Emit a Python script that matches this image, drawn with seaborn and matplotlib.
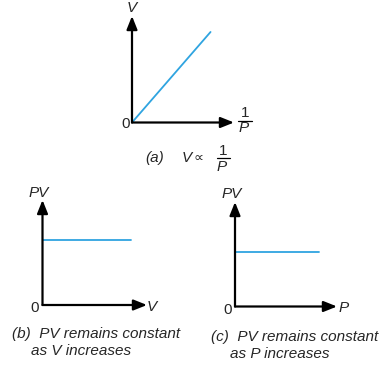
import matplotlib
matplotlib.use("Agg")
import matplotlib.pyplot as plt
from matplotlib.lines import Line2D
import seaborn as sns

sns.set_theme(style="white")
plt.rcParams['font.family'] = ['Liberation Sans', 'DejaVu Sans']

# ---- data ----
a_x = [0.0, 0.77]
a_y = [0.0, 0.85]
b_x = [0.0, 0.85]
b_y = [0.62, 0.62]
c_x = [0.0, 0.82]
c_y = [0.52, 0.52]

LINE = "#2fa4e0"
W, H = 383, 368
fig = plt.figure(figsize=(W / 100, H / 100), dpi=100)
fig.patch.set_facecolor("white")


def px(x, y):
    return x / W, 1 - y / H


def make_axes(x0, y0, x1, y1):
    ax = fig.add_axes([x0 / W, 1 - y0 / H, (x1 - x0) / W, (y0 - y1) / H])
    ax.set_xlim(0, 1)
    ax.set_ylim(0, 1)
    ax.axis("off")
    for start, end in [((0, 0), (1, 0)), ((0, 0), (0, 1))]:
        ax.annotate("", xy=end, xytext=start, xycoords="data",
                    arrowprops=dict(arrowstyle="-|>,head_length=0.8,head_width=0.32",
                                    color="black", lw=1.6, shrinkA=0, shrinkB=0,
                                    mutation_scale=10),
                    annotation_clip=False)
    return ax


def fraction(xc, ytop, ybar, ybot, half, fs):
    fig.text(*px(xc, ytop), "1", fontsize=fs, ha="center", va="center")
    fig.text(*px(xc - 1, ybot), "P", style="italic", fontsize=fs, ha="center", va="center")
    x0, y0 = px(xc - half, ybar)
    x1, _ = px(xc + half, ybar)
    fig.add_artist(Line2D([x0, x1], [y0, y0], color="black", lw=0.9,
                          transform=fig.transFigure))


FS = 11
# panel (a)
ax_a = make_axes(132, 122.5, 234, 16)
sns.lineplot(x=a_x, y=a_y, ax=ax_a, color=LINE, lw=1.3)
fig.text(*px(132, 8), "V", style="italic", fontsize=FS, ha="center", va="center")
fig.text(*px(126, 124), "0", fontsize=FS, ha="center", va="center")
fraction(245, 113, 120.5, 128.5, 6.5, FS)
fig.text(*px(155, 158), "(a)", style="italic", fontsize=FS, ha="center", va="center")
fig.text(*px(187, 158), "V", style="italic", fontsize=FS, ha="center", va="center")
fig.text(*px(198, 158), "\u221d", fontsize=FS - 1, ha="center", va="center",
         family=['DejaVu Sans'])
fraction(223, 151, 158.5, 167, 6.5, FS)

# panel (b)
ax_b = make_axes(42.5, 305, 147, 200)
sns.lineplot(x=b_x, y=b_y, ax=ax_b, color=LINE, lw=1.3)
fig.text(*px(39, 193), "PV", style="italic", fontsize=FS, ha="center", va="center")
fig.text(*px(35, 308), "0", fontsize=FS, ha="center", va="center")
fig.text(*px(152, 307), "V", style="italic", fontsize=FS, ha="center", va="center")
fig.text(*px(12, 334), "(b)  PV remains constant", style="italic", fontsize=FS,
         ha="left", va="center")
fig.text(*px(31, 351), "as V increases", style="italic", fontsize=FS,
         ha="left", va="center")

# panel (c)
ax_c = make_axes(235, 306.5, 337, 202)
sns.lineplot(x=c_x, y=c_y, ax=ax_c, color=LINE, lw=1.3)
fig.text(*px(232, 194), "PV", style="italic", fontsize=FS, ha="center", va="center")
fig.text(*px(228, 310), "0", fontsize=FS, ha="center", va="center")
fig.text(*px(344, 308), "P", style="italic", fontsize=FS, ha="center", va="center")
fig.text(*px(211, 337), "(c)  PV remains constant", style="italic", fontsize=FS,
         ha="left", va="center")
fig.text(*px(230, 354), "as P increases", style="italic", fontsize=FS,
         ha="left", va="center")

fig.savefig("out.png", dpi=100, facecolor="white")
